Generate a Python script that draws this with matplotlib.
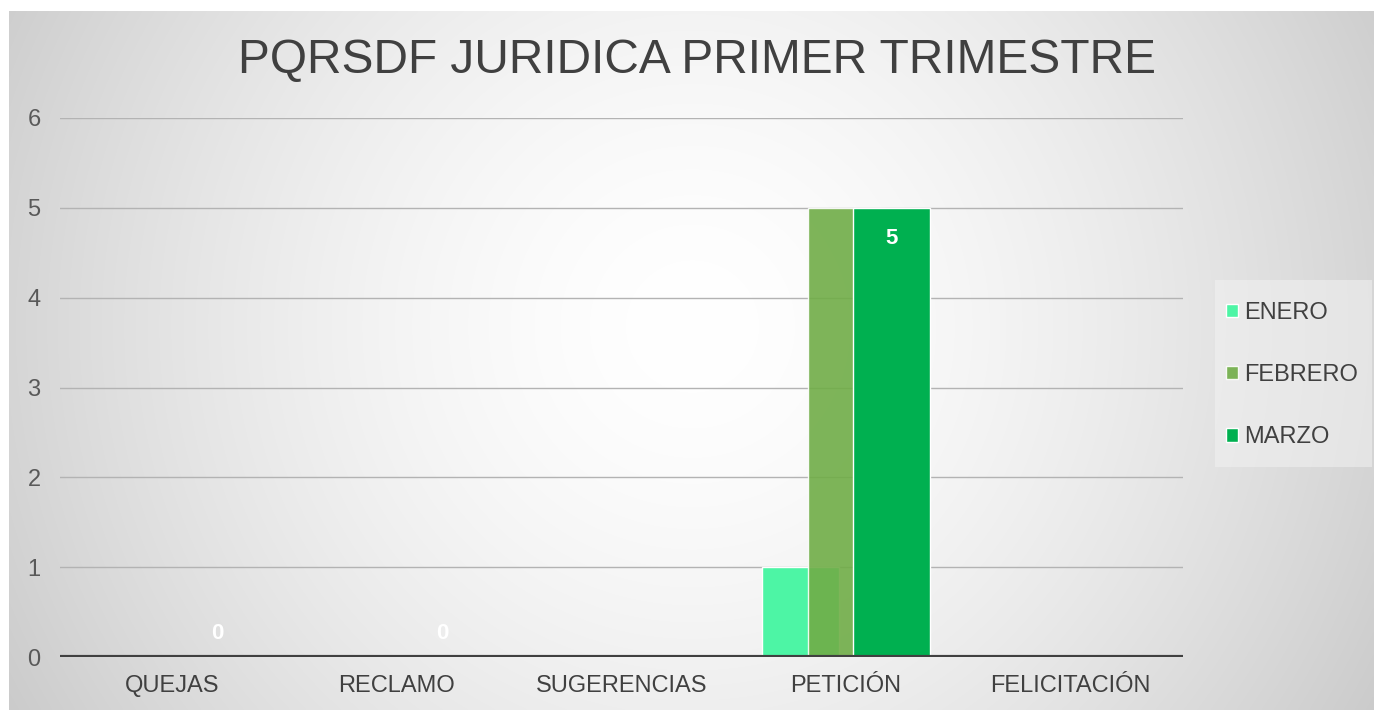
import numpy as np
import matplotlib
matplotlib.use("Agg")
import matplotlib.pyplot as plt
from matplotlib.patches import Patch, Rectangle

categories = ["QUEJAS", "RECLAMO", "SUGERENCIAS", "PETICIÓN", "FELICITACIÓN"]
series_names = ["ENERO", "FEBRERO", "MARZO"]
enero = [np.nan, np.nan, np.nan, 1, np.nan]
febrero = [np.nan, np.nan, np.nan, 5, np.nan]
marzo = [0, 0, np.nan, 5, np.nan]
marzo_labels = ["0", "0", "", "5", ""]
title = "PQRSDF JURIDICA PRIMER TRIMESTRE"
yticks = [0, 1, 2, 3, 4, 5, 6]

colors = ["#4DF5A5", "#70AD47", "#00B050"]
alphas = [1.0, 0.9, 1.0]

plt.rcParams['font.family'] = ['Liberation Sans', 'DejaVu Sans']

W, H = 1374, 710
fig = plt.figure(figsize=(W / 100, H / 100), dpi=100)
fig.patch.set_facecolor("white")

# background radial gradient
bg = fig.add_axes([9 / W, 0, 1 - 9 / W, (H - 11) / H])
bg.set_axis_off()
ny, nx = 350, 680
yy, xx = np.mgrid[0:ny, 0:nx]
cx, cy = 0.50 * nx, 0.45 * ny
r = np.sqrt(((xx - cx) / (0.62 * nx)) ** 2 + ((yy - cy) / (0.62 * nx)) ** 2)
val = 1.0 - 0.23 * np.clip(r, 0, 1.3) ** 1.6
val = np.clip(val, 0.765, 1.0)
img = np.dstack([val, val, val])
bg.imshow(img, aspect="auto", extent=[0, 1, 0, 1], interpolation="bilinear")
bg.set_xlim(0, 1)
bg.set_ylim(0, 1)

ax = fig.add_axes([60 / W, 53 / H, (1183 - 60) / W, (657 - 118) / H])
ax.patch.set_alpha(0)
x = np.arange(len(categories))
width = 0.343
offset = 0.2025
series = [enero, febrero, marzo]
for i, (vals, name) in enumerate(zip(series, series_names)):
    ax.bar(x + (i - 1) * offset, vals, width, color=colors[i], alpha=alphas[i],
           edgecolor=(1, 1, 1, 0.45), linewidth=1, zorder=3 + i, label=name)

for xi, v, lab in zip(x, marzo, marzo_labels):
    if lab:
        ypos = v - 0.34 if v > 0.5 else v + 0.26
        ax.text(xi + offset, ypos, lab, ha="center", va="center", color="white",
                fontsize=16, fontweight="bold", zorder=10)

ax.set_xlim(-0.5, len(categories) - 0.5)
ax.set_ylim(0, 6)
ax.set_yticks(yticks)
ax.set_xticks(x)
ax.set_xticklabels(categories)
for y in yticks[1:]:
    ax.axhline(y, color="#b3b3b3", linewidth=1, zorder=1)
ax.axhline(0, color="#404040", linewidth=3, zorder=8)
for s in ax.spines.values():
    s.set_visible(False)
ax.tick_params(axis="both", length=0, labelsize=17, colors="#595959")
ax.tick_params(axis="x", pad=13, labelcolor="#404040")
ax.tick_params(axis="y", pad=14)

fig.text(697 / W, 1 - 60 / H, title, ha="center", va="center", fontsize=34.5,
         color="#404040")

# legend background box
fig.patches.append(Rectangle((1215 / W, 1 - 467 / H), (1372 - 1215) / W,
                             (467 - 280) / H, transform=fig.transFigure,
                             facecolor="#f2f2f2", alpha=0.55, edgecolor="none"))
handles = [Patch(facecolor=colors[i], alpha=alphas[i], edgecolor=(1, 1, 1, 0.5),
                 linewidth=1) for i in range(3)]
leg = fig.legend(handles, series_names, loc="upper left",
                 bbox_to_anchor=(1226 / W, 1 - 302 / H), fontsize=17,
                 frameon=False, handlelength=0.5, handleheight=0.5,
                 handletextpad=0.25, labelspacing=1.7, borderpad=0,
                 borderaxespad=0)
for t in leg.get_texts():
    t.set_color("#404040")

fig.savefig("out.png", dpi=100)
